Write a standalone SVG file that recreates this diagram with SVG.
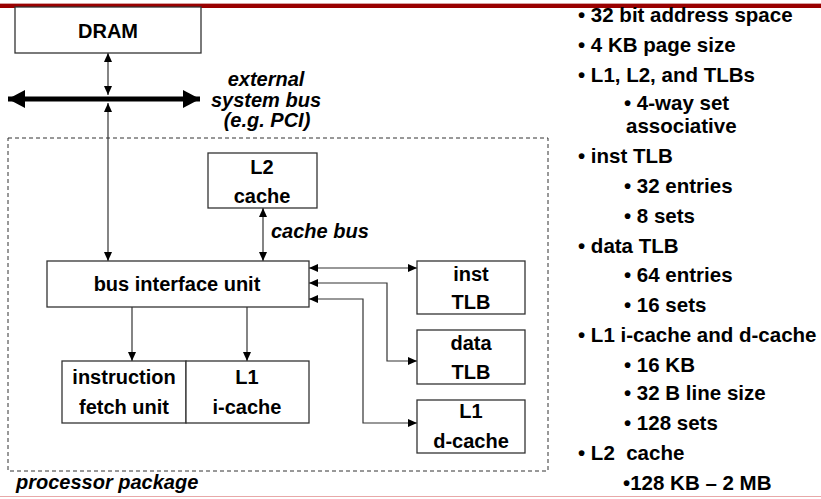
<svg xmlns="http://www.w3.org/2000/svg" width="821" height="499" viewBox="0 0 821 499">
<style>
text{font-family:"Liberation Sans",Arial,sans-serif;font-weight:bold;font-size:20px;fill:#000}
#notes text{font-size:20.5px}
.it{font-style:italic}
.box{fill:#fff;stroke:#333;stroke-width:1.3}
.c{stroke:#333;stroke-width:1.2;fill:none}
.m{text-anchor:middle}
</style>
<defs>
<marker id="a" markerUnits="userSpaceOnUse" markerWidth="10" markerHeight="8" refX="9" refY="4" orient="auto-start-reverse">
<path d="M0,0 L9,4 L0,8 Z" fill="#000"/>
</marker>
<marker id="b" markerUnits="userSpaceOnUse" markerWidth="18" markerHeight="18" refX="17" refY="9" orient="auto-start-reverse">
<path d="M0,0 L17,9 L0,18 Z" fill="#000"/>
</marker>
</defs>
<rect x="0" y="3" width="821" height="1" fill="#d8a0a0"/>
<rect x="0" y="4" width="821" height="4" fill="#990000"/>
<rect x="0" y="496" width="821" height="1" fill="#e8a8a8"/>

<rect x="8" y="138" width="540" height="333" fill="none" stroke="#333" stroke-width="1" stroke-dasharray="4,3"/>
<text class="it" x="16" y="489">processor package</text>

<g id="connectors">
<line x1="8" y1="99" x2="200" y2="99" stroke="#000" stroke-width="5" marker-start="url(#b)" marker-end="url(#b)"/>
<line class="c" x1="108" y1="95" x2="108" y2="53" marker-start="url(#a)" marker-end="url(#a)"/>
<line class="c" x1="108" y1="103" x2="108" y2="261" marker-start="url(#a)" marker-end="url(#a)"/>
<line class="c" x1="263" y1="208" x2="263" y2="261" marker-start="url(#a)" marker-end="url(#a)"/>
<line class="c" x1="132" y1="307" x2="132" y2="361" marker-end="url(#a)"/>
<line class="c" x1="247" y1="307" x2="247" y2="361" marker-end="url(#a)"/>
<line class="c" x1="309" y1="268" x2="417" y2="268" marker-start="url(#a)" marker-end="url(#a)"/>
<polyline class="c" points="309,283 387,283 387,361 417,361" marker-start="url(#a)" marker-end="url(#a)"/>
<polyline class="c" points="309,299 363,299 363,423 417,423" marker-start="url(#a)" marker-end="url(#a)"/>
</g>

<g id="dram"><rect class="box" x="15" y="7" width="186" height="46"/><text class="m" x="108" y="38">DRAM</text></g>
<g id="busLabel"><text class="it m" x="266" y="86">external</text><text class="it m" x="266" y="107">system bus</text><text class="it m" x="267" y="127">(e.g. PCI)</text></g>
<g id="l2"><rect class="box" x="208" y="153" width="109" height="55"/><text class="m" x="262" y="174">L2</text><text class="m" x="262" y="203">cache</text></g>
<text class="it" x="271" y="238">cache bus</text>
<g id="biu"><rect class="box" x="47" y="261" width="262" height="46"/><text class="m" x="177" y="291">bus interface unit</text></g>
<g id="fetch"><rect class="box" x="62" y="361" width="124" height="62"/><text class="m" x="124" y="384">instruction</text><text class="m" x="124" y="414">fetch unit</text></g>
<g id="icache"><rect class="box" x="186" y="361" width="123" height="62"/><text class="m" x="247" y="384">L1</text><text class="m" x="247" y="414">i-cache</text></g>
<g id="itlb"><rect class="box" x="417" y="261" width="108" height="53"/><text class="m" x="471" y="281">inst</text><text class="m" x="471" y="309">TLB</text></g>
<g id="dtlb"><rect class="box" x="417" y="330" width="108" height="54"/><text class="m" x="471" y="350">data</text><text class="m" x="471" y="379">TLB</text></g>
<g id="dcache"><rect class="box" x="417" y="400" width="108" height="53"/><text class="m" x="471" y="418">L1</text><text class="m" x="471" y="448">d-cache</text></g>

<g id="notes">
<text x="578" y="22">• 32 bit address space</text>
<text x="578" y="52">• 4 KB page size</text>
<text x="578" y="82">• L1, L2, and TLBs</text>
<text x="624" y="110">• 4-way set</text>
<text x="626" y="133">associative</text>
<text x="578" y="163">• inst TLB</text>
<text x="624" y="193">• 32 entries</text>
<text x="624" y="223">• 8 sets</text>
<text x="578" y="253">• data TLB</text>
<text x="624" y="282">• 64 entries</text>
<text x="624" y="312">• 16 sets</text>
<text x="578" y="342">• L1 i-cache and d-cache</text>
<text x="624" y="372">• 16 KB</text>
<text x="624" y="400">• 32 B line size</text>
<text x="624" y="430">• 128 sets</text>
<text x="578" y="460">• L2&#160; cache</text>
<text x="623" y="490">•128 KB – 2 MB</text>
</g>
</svg>
